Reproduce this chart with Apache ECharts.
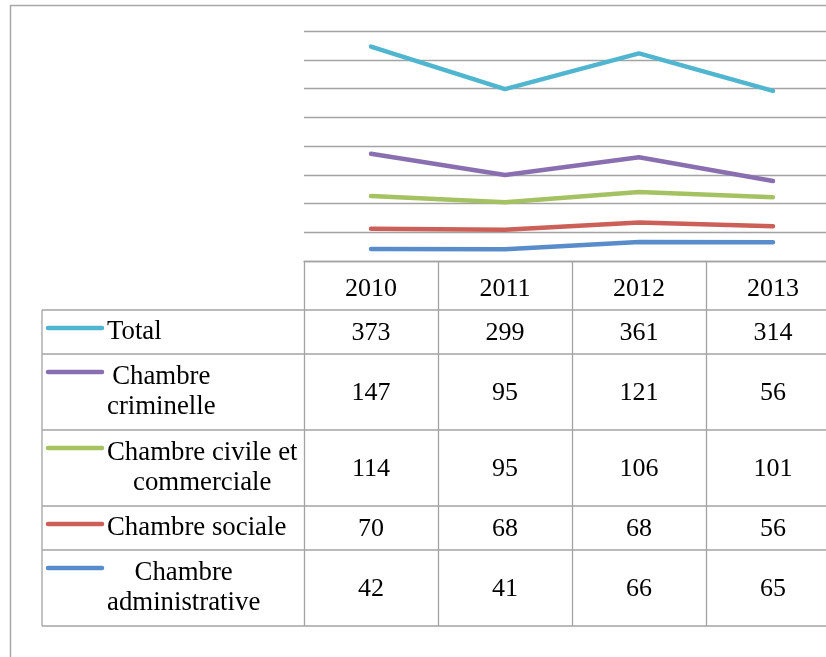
<!DOCTYPE html>
<html>
<head>
<meta charset="utf-8">
<script src="https://cdn.jsdelivr.net/npm/echarts@6/dist/echarts.min.js"></script>
<style>
  html, body { margin: 0; padding: 0; background: #fff; }
  #cn { width: 826px; height: 657px; }
</style>
</head>
<body>
<div id="cn"></div>
<script>
'use strict';

// data (table values; lines are stacked like the original)
const years = ['2010', '2011', '2012', '2013'];
const seriesNames = ['Total', 'Chambre\ncriminelle', 'Chambre civile et\ncommerciale', 'Chambre sociale', 'Chambre\nadministrative'];
const total = [373, 299, 361, 314];
const criminelle = [147, 95, 121, 56];
const civile = [114, 95, 106, 101];
const sociale = [70, 68, 68, 56];
const administrative = [42, 41, 66, 65];
const seriesColors = ['#50b5cf', '#8a6fb0', '#a5c262', '#cc5f57', '#588ccb'];

const rows = [total, criminelle, civile, sociale, administrative];

// layout
const FONT = '"Liberation Serif", "Times New Roman", serif';
const FS = 26;     // numbers
const FS_LBL = 26.8; // row labels
const GRID_LEFT = 304, GRID_TOP = 31, GRID_W = 536, GRID_H = 230;
const TABLE_LEFT = 42;
const HEADER_H = 49;
const rowHeights = [44, 76, 76, 44, 76];
const GRAY = '#a3a3a3';

const chart = echarts.init(document.getElementById('cn'));

// stacked from the bottom: administrative first
const stackOrder = [4, 3, 2, 1, 0];
const series = stackOrder.map(i => ({
    name: seriesNames[i],
    type: 'line',
    stack: 'all',
    data: rows[i],
    symbol: 'none',
    showSymbol: false,
    silent: true,
    lineStyle: { width: 4.5, color: seriesColors[i], cap: 'round', join: 'round' },
    itemStyle: { color: seriesColors[i] }
}));

const tableBottom = GRID_TOP + GRID_H + HEADER_H + rowHeights.reduce((a, b) => a + b, 0);

chart.setOption({
    animation: false,
    backgroundColor: '#fff',
    grid: { left: GRID_LEFT, top: GRID_TOP, width: GRID_W, height: GRID_H, outerBoundsMode: 'none', containLabel: false },
    xAxis: {
        type: 'category',
        data: years,
        boundaryGap: true,
        axisLine: { show: true, lineStyle: { color: GRAY, width: 1.3 } },
        axisTick: { show: true, interval: 0, length: tableBottom - GRID_TOP - GRID_H, lineStyle: { color: GRAY, width: 1.3 } },
        axisLabel: { interval: 0, margin: 15, color: '#000', fontFamily: FONT, fontSize: FS }
    },
    yAxis: {
        type: 'value',
        min: 0,
        max: 800,
        interval: 100,
        axisLine: { show: false },
        axisTick: { show: false },
        axisLabel: { show: false },
        splitLine: { lineStyle: { color: GRAY, width: 1.3 } }
    },
    series: series
});

// data table below the plot
const ctx = document.createElement('canvas').getContext('2d');
ctx.font = FS_LBL + 'px ' + FONT;
const blockWidth = s => Math.max(...s.split('\n').map(l => ctx.measureText(l).width));

const elements = [];
// outer frame
elements.push({
    type: 'rect', shape: { x: 10.5, y: 5.5, width: 1000, height: 1000 },
    style: { fill: 'none', stroke: '#a8a8a8', lineWidth: 1.5 }, silent: true
});

let y = GRID_TOP + GRID_H + HEADER_H;
const xEnd = 900;
elements.push({ type: 'line', shape: { x1: TABLE_LEFT, y1: y, x2: xEnd, y2: y }, style: { stroke: GRAY, lineWidth: 1.3 }, silent: true });
elements.push({ type: 'line', shape: { x1: TABLE_LEFT, y1: y, x2: TABLE_LEFT, y2: tableBottom }, style: { stroke: GRAY, lineWidth: 1.3 }, silent: true });

rows.forEach((vals, r) => {
    const h = rowHeights[r];
    const cy = y + h / 2;
    // legend key
    elements.push({
        type: 'line', shape: { x1: 48, y1: y + 18, x2: 102, y2: y + 18 },
        style: { stroke: seriesColors[r], lineWidth: 4.5, lineCap: 'round' }, silent: true
    });
    elements.push({
        type: 'text', x: 107 + blockWidth(seriesNames[r]) / 2, y: cy,
        style: { text: seriesNames[r], fontFamily: FONT, fontSize: FS_LBL, lineHeight: 30, fill: '#000', align: 'center', verticalAlign: 'middle' },
        silent: true
    });
    vals.forEach((v, c) => {
        const px = chart.convertToPixel({ xAxisIndex: 0 }, years[c]);
        elements.push({
            type: 'text', x: px, y: cy + 1,
            style: { text: String(v), fontFamily: FONT, fontSize: FS, fill: '#000', align: 'center', verticalAlign: 'middle' },
            silent: true
        });
    });
    y += h;
    elements.push({ type: 'line', shape: { x1: TABLE_LEFT, y1: y, x2: xEnd, y2: y }, style: { stroke: GRAY, lineWidth: 1.3 }, silent: true });
});

chart.setOption({ graphic: { elements: elements } });
</script>
</body>
</html>
